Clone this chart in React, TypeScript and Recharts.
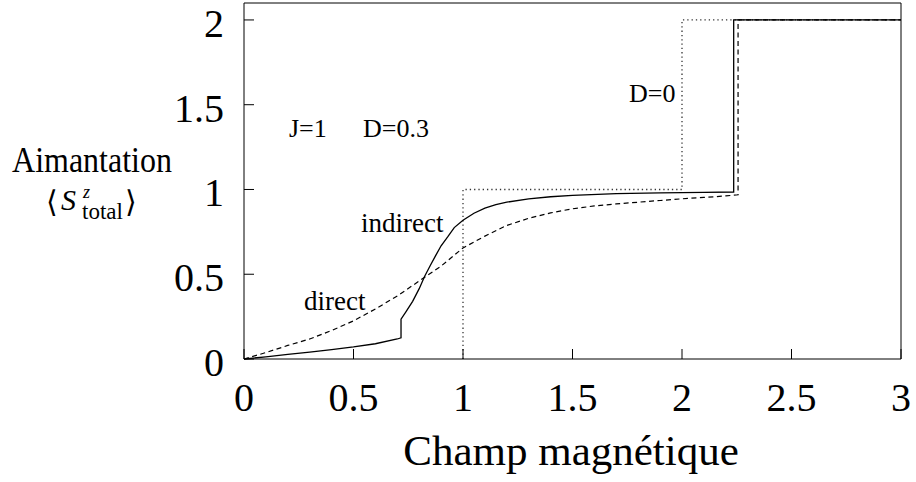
import { LineChart, Line, XAxis, YAxis } from 'recharts';

// D=0 reference (pure steps; the zero part lies on the axis)
const stepD0 = [
  { x: 1, y: 0 },
  { x: 1, y: 1 },
  { x: 2, y: 1 },
  { x: 2, y: 2 },
  { x: 3, y: 2 },
];

// indirect (solid)
const indirect = [
  { x: 0, y: 0 },
  { x: 0.1, y: 0.013 },
  { x: 0.2, y: 0.027 },
  { x: 0.3, y: 0.041 },
  { x: 0.4, y: 0.055 },
  { x: 0.5, y: 0.071 },
  { x: 0.6, y: 0.09 },
  { x: 0.7, y: 0.118 },
  { x: 0.717, y: 0.125 },
  { x: 0.717, y: 0.235 },
  { x: 0.74, y: 0.28 },
  { x: 0.77, y: 0.34 },
  { x: 0.8, y: 0.415 },
  { x: 0.825, y: 0.488 },
  { x: 0.85, y: 0.55 },
  { x: 0.875, y: 0.61 },
  { x: 0.9, y: 0.668 },
  { x: 0.93, y: 0.72 },
  { x: 0.96, y: 0.775 },
  { x: 1.0, y: 0.818 },
  { x: 1.05, y: 0.86 },
  { x: 1.1, y: 0.89 },
  { x: 1.15, y: 0.91 },
  { x: 1.2, y: 0.925 },
  { x: 1.3, y: 0.945 },
  { x: 1.4, y: 0.957 },
  { x: 1.5, y: 0.965 },
  { x: 1.7, y: 0.975 },
  { x: 1.9, y: 0.98 },
  { x: 2.1, y: 0.983 },
  { x: 2.236, y: 0.985 },
  { x: 2.236, y: 2 },
  { x: 3, y: 2 },
];

// direct (dashed)
const direct = [
  { x: 0, y: 0 },
  { x: 0.1, y: 0.038 },
  { x: 0.2, y: 0.08 },
  { x: 0.3, y: 0.118 },
  { x: 0.4, y: 0.168 },
  { x: 0.5, y: 0.225 },
  { x: 0.6, y: 0.295 },
  { x: 0.7, y: 0.372 },
  { x: 0.8, y: 0.46 },
  { x: 0.9, y: 0.548 },
  { x: 1.0, y: 0.655 },
  { x: 1.1, y: 0.725 },
  { x: 1.2, y: 0.788 },
  { x: 1.3, y: 0.83 },
  { x: 1.4, y: 0.862 },
  { x: 1.5, y: 0.886 },
  { x: 1.6, y: 0.903 },
  { x: 1.7, y: 0.915 },
  { x: 1.8, y: 0.925 },
  { x: 1.9, y: 0.935 },
  { x: 2.0, y: 0.945 },
  { x: 2.1, y: 0.953 },
  { x: 2.2, y: 0.962 },
  { x: 2.256, y: 0.969 },
  { x: 2.256, y: 2 },
  { x: 3, y: 2 },
];

const xTicks = [0, 0.5, 1, 1.5, 2, 2.5, 3];
const yTicks = [0, 0.5, 1, 1.5, 2];

const FONT = "'Liberation Serif', 'DejaVu Serif', serif";
const TICK_LEN = 10;
const txt = { fontFamily: FONT, fill: '#000' };

function BottomTick({ x, y, payload }: any) {
  return (
    <g>
      <line x1={x} x2={x} y1={y} y2={y - TICK_LEN} stroke="#000" />
      <text x={x} y={y + 52} textAnchor="middle" fontSize={40} style={txt}>
        {payload.value}
      </text>
    </g>
  );
}

function LeftTick({ x, y, payload }: any) {
  return (
    <g>
      <line x1={x} x2={x + TICK_LEN} y1={y} y2={y} stroke="#000" />
      <text x={x - 20} y={y + 17} textAnchor="end" fontSize={40} style={txt}>
        {payload.value}
      </text>
    </g>
  );
}

function TopTick({ x, y }: any) {
  return <line x1={x} x2={x} y1={y} y2={y + TICK_LEN} stroke="#000" />;
}

function RightTick({ x, y }: any) {
  return <line x1={x} x2={x - TICK_LEN} y1={y} y2={y} stroke="#000" />;
}

export default function App() {
  return (
    <div style={{ position: 'absolute', left: 0, top: 0, background: '#fff', fontFamily: FONT }}>
      <LineChart width={916} height={482} margin={{ top: 2, right: 14, bottom: 0, left: 0 }}>
        <XAxis
          type="number"
          dataKey="x"
          domain={[0, 3]}
          ticks={xTicks}
          interval={0}
          height={123}
          tickSize={0}
          tickMargin={0}
          tick={<BottomTick />}
          axisLine={{ stroke: '#000' }}
        />
        <XAxis
          xAxisId="top"
          orientation="top"
          type="number"
          dataKey="x"
          domain={[0, 3]}
          ticks={xTicks}
          interval={0}
          height={1}
          tickSize={0}
          tickMargin={0}
          tick={<TopTick />}
          axisLine={{ stroke: '#000' }}
        />
        <YAxis
          type="number"
          domain={[0, 2.1]}
          ticks={yTicks}
          interval={0}
          width={244}
          tickSize={0}
          tickMargin={0}
          tick={<LeftTick />}
          axisLine={{ stroke: '#000' }}
        />
        <YAxis
          yAxisId="right"
          orientation="right"
          type="number"
          domain={[0, 2.1]}
          ticks={yTicks}
          interval={0}
          width={1}
          tickSize={0}
          tickMargin={0}
          tick={<RightTick />}
          axisLine={{ stroke: '#000' }}
        />
        <Line
          data={stepD0}
          dataKey="y"
          type="linear"
          stroke="#333"
          strokeWidth={1.3}
          strokeDasharray="1.3 3"
          dot={false}
          activeDot={false}
          isAnimationActive={false}
        />
        <Line
          data={direct}
          dataKey="y"
          type="linear"
          stroke="#000"
          strokeWidth={1.2}
          strokeDasharray="5 3.5"
          dot={false}
          activeDot={false}
          isAnimationActive={false}
        />
        <Line
          data={indirect}
          dataKey="y"
          type="linear"
          stroke="#000"
          strokeWidth={1.3}
          dot={false}
          activeDot={false}
          isAnimationActive={false}
        />

        {/* annotations */}
        <text x={289} y={137} fontSize={26} style={txt}>J=1</text>
        <text x={363} y={137} fontSize={26} style={txt}>D=0.3</text>
        <text x={629} y={102} fontSize={26} style={txt}>D=0</text>
        <text x={361} y={232} fontSize={27} style={txt}>indirect</text>
        <text x={304} y={310} fontSize={27} style={txt}>direct</text>

        {/* axis titles */}
        <text x={571} y={465} textAnchor="middle" fontSize={43} style={txt}>
          Champ magnétique
        </text>
        <g transform="translate(92,172) scale(1,1.1)">
          <text x={0} y={0} textAnchor="middle" fontSize={32} style={txt}>
            Aimantation
          </text>
        </g>
        <text x={46} y={212} fontSize={30} style={txt}>⟨</text>
        <text x={61} y={210} fontSize={30} fontStyle="italic" style={txt}>S</text>
        <text x={83} y={198} fontSize={18} fontStyle="italic" style={txt}>z</text>
        <text x={82} y={219} fontSize={23} style={txt}>total</text>
        <text x={125} y={212} fontSize={30} style={txt}>⟩</text>
      </LineChart>
    </div>
  );
}
